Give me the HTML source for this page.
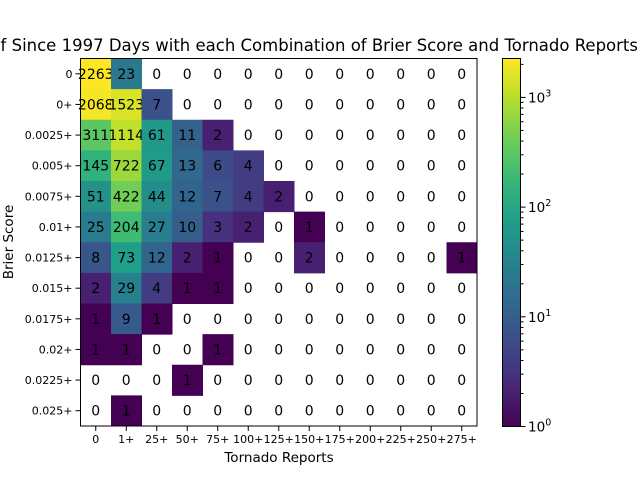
<!DOCTYPE html>
<html><head><meta charset="utf-8"><style>
html,body{margin:0;padding:0;background:#fff}
svg{display:block;font-family:"DejaVu Sans","Liberation Sans",sans-serif}
</style></head><body>
<svg id="chart" width="640" height="480">
<text x="638" y="51" text-anchor="end" font-size="16.5" fill="#000">Number of Since 1997 Days with each Combination of Brier Score and Tornado Reports</text>
<g id="cells"></g>
<rect x="80.5" y="58.5" width="396.5" height="367.5" fill="none" stroke="#000" stroke-width="1"/>
<g id="axes"></g>
<text x="279" y="462" text-anchor="middle" font-size="13.5">Tornado Reports</text>
<text transform="translate(13,242) rotate(-90)" text-anchor="middle" font-size="13.5">Brier Score</text>
<defs><linearGradient id="vg" x1="0" y1="1" x2="0" y2="0"></linearGradient></defs>
<rect x="502.5" y="58.5" width="18" height="368" fill="url(#vg)" stroke="#000" stroke-width="1"/>
<g id="cbticks"></g>
</svg>
<script>
const xLabels=["0","1+","25+","50+","75+","100+","125+","150+","175+","200+","225+","250+","275+"];
const yLabels=["0","0+","0.0025+","0.005+","0.0075+","0.01+","0.0125+","0.015+","0.0175+","0.02+","0.0225+","0.025+"];
const row0=[2263,23,0,0,0,0,0,0,0,0,0,0,0];
const row1=[2068,1523,7,0,0,0,0,0,0,0,0,0,0];
const row2=[311,1114,61,11,2,0,0,0,0,0,0,0,0];
const row3=[145,722,67,13,6,4,0,0,0,0,0,0,0];
const row4=[51,422,44,12,7,4,2,0,0,0,0,0,0];
const row5=[25,204,27,10,3,2,0,1,0,0,0,0,0];
const row6=[8,73,12,2,1,0,0,2,0,0,0,0,1];
const row7=[2,29,4,1,1,0,0,0,0,0,0,0,0];
const row8=[1,9,1,0,0,0,0,0,0,0,0,0,0];
const row9=[1,1,0,0,1,0,0,0,0,0,0,0,0];
const row10=[0,0,0,1,0,0,0,0,0,0,0,0,0];
const row11=[0,1,0,0,0,0,0,0,0,0,0,0,0];
const rows=[row0,row1,row2,row3,row4,row5,row6,row7,row8,row9,row10,row11];
const cbTicks=[0,1,2,3];

const NS="http://www.w3.org/2000/svg";
const X0=80.5,X1=477,Y0=58.5,Y1=426;
const cw=(X1-X0)/xLabels.length, ch=(Y1-Y0)/yLabels.length;
const xs=i=>X0+i*cw, ys=j=>Y0+j*ch;
const vmax=Math.max(...rows.flat());
const lmax=Math.log10(vmax);
const V=[[68,1,84],[72,40,120],[62,73,137],[49,104,142],[38,130,142],[31,158,137],[53,183,121],[109,205,89],[180,222,44],[253,231,37]];
function viridis(t){t=Math.max(0,Math.min(1,t));const p=t*(V.length-1),i=Math.min(Math.floor(p),V.length-2),f=p-i;
const c=V[i].map((a,k)=>Math.round(a+(V[i+1][k]-a)*f));return `rgb(${c[0]},${c[1]},${c[2]})`;}
function mk(tag,at,parent,txt){const e=document.createElementNS(NS,tag);for(const k in at)e.setAttribute(k,at[k]);if(txt!==undefined)e.textContent=txt;parent.appendChild(e);return e;}
const cells=document.getElementById('cells');
rows.forEach((r,j)=>r.forEach((v,i)=>{
 if(v>0){const rc=mk('rect',{x:xs(i),y:ys(j),width:cw+0.5,height:ch+0.5,fill:viridis(Math.log10(v)/lmax)},cells);
 
 }
 const t=mk('text',{x:xs(i)+cw/2,y:ys(j)+ch/2+5,'text-anchor':'middle','font-size':'14'},cells,String(v));
 
 
}));
const axes=document.getElementById('axes');
xLabels.forEach((l,i)=>{const x=xs(i)+cw/2;
 mk('line',{x1:x,x2:x,y1:Y1,y2:Y1+5,stroke:'#000'},axes);
 const t=mk('text',{x:x,y:443,'text-anchor':'middle','font-size':'11'},axes,l);
 
 });
yLabels.forEach((l,j)=>{const y=ys(j)+ch/2;
 mk('line',{x1:X0-5,x2:X0,y1:y,y2:y,stroke:'#000'},axes);
 const t=mk('text',{x:X0-8,y:y+4,'text-anchor':'end','font-size':'11'},axes,l);
 
 });
const g=document.getElementById('vg');
for(let k=0;k<=20;k++){mk('stop',{offset:k/20,'stop-color':viridis(k/20)},g);}
const cb=document.getElementById('cbticks');const CB0=58.5,CB1=426.5;
const cy=l=>CB1-(l/lmax)*(CB1-CB0);
cbTicks.forEach(d=>{const y=cy(d);
 mk('line',{x1:520.5,x2:525.5,y1:y,y2:y,stroke:'#000'},cb);
 const t=mk('text',{x:528,y:y+5,'font-size':'13.5'},cb);
 mk('tspan',{},t,'10');mk('tspan',{dy:-6,'font-size':'9.5'},t,String(d));
 
 
 if(d<3)for(let m=2;m<10;m++){const l=d+Math.log10(m);if(l>lmax)break;const yy=cy(l);mk('line',{x1:520.5,x2:523.5,y1:yy,y2:yy,stroke:'#000'},cb);}
});
for(let m=2;m<10;m++){const l=3+Math.log10(m);if(l>lmax)break;const yy=cy(l);mk('line',{x1:520.5,x2:523.5,y1:yy,y2:yy,stroke:'#000'},cb);}
</script>
</body></html>
